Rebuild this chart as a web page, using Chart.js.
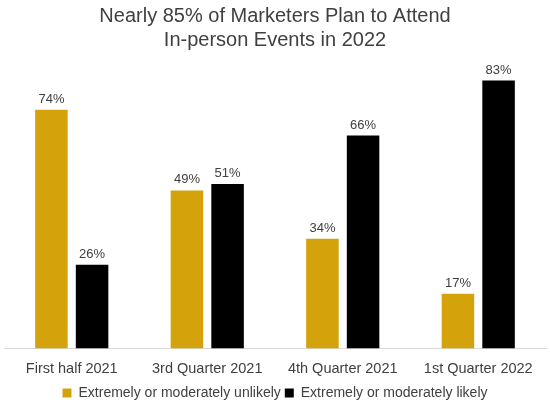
<!DOCTYPE html>
<html>
<head>
<meta charset="utf-8">
<script src="https://cdn.jsdelivr.net/npm/chart.js@4/dist/chart.umd.min.js"></script>
<style>
  html, body { margin: 0; padding: 0; background: #fff; }
  #wrap { width: 550px; height: 410px; }
</style>
</head>
<body>
<div id="wrap"><canvas id="chart"></canvas></div>
<script>
(function(){
  'use strict';

  var categories = ['First half 2021', '3rd Quarter 2021', '4th Quarter 2021', '1st Quarter 2022'];
  var unlikely = [74, 49, 34, 17];
  var likely = [26, 51, 66, 83];
  var seriesNames = ['Extremely or moderately unlikely', 'Extremely or moderately likely'];

  var font = 'Liberation Sans, Arial, sans-serif';

  var valueLabels = {
    id: 'valueLabels',
    afterDatasetsDraw: function(chart) {
      var ctx = chart.ctx;
      ctx.save();
      ctx.font = '13px ' + font;
      ctx.fillStyle = '#404040';
      ctx.textAlign = 'center';
      ctx.textBaseline = 'bottom';
      chart.data.datasets.forEach(function(ds, i) {
        chart.getDatasetMeta(i).data.forEach(function(bar, j) {
          ctx.fillText(ds.data[j] + '%', bar.x, bar.y - 4);
        });
      });
      ctx.restore();
    }
  };

  var ctx = document.getElementById('chart').getContext('2d');
  new Chart(ctx, {
    type: 'bar',
    data: {
      labels: categories,
      datasets: [
        { label: seriesNames[0], data: unlikely, backgroundColor: '#D4A20A' },
        { label: seriesNames[1], data: likely, backgroundColor: '#000000' }
      ]
    },
    options: {
      responsive: true,
      maintainAspectRatio: false,
      animation: false,
      layout: { padding: { left: 4, right: 4, top: 4, bottom: 0 } },
      datasets: { bar: { categoryPercentage: 0.6, barPercentage: 0.8 } },
      plugins: {
        title: {
          display: true,
          text: ['Nearly 85% of Marketers Plan to Attend', 'In-person Events in 2022'],
          color: '#404040',
          font: { family: font, size: 20, weight: 'normal', lineHeight: 1.2 },
          padding: { top: 0, bottom: 6 }
        },
        legend: {
          position: 'bottom',
          labels: {
            color: '#404040',
            font: { family: font, size: 14 },
            boxWidth: 9, boxHeight: 9, padding: 4
          }
        },
        tooltip: { enabled: false }
      },
      scales: {
        x: {
          grid: { display: false },
          border: { color: '#d9d9d9' },
          ticks: { color: '#404040', padding: 4, font: { family: font, size: 14.5 } }
        },
        y: {
          display: false,
          min: 0,
          max: 90
        }
      }
    },
    plugins: [valueLabels]
  });
})();
</script>
</body>
</html>
